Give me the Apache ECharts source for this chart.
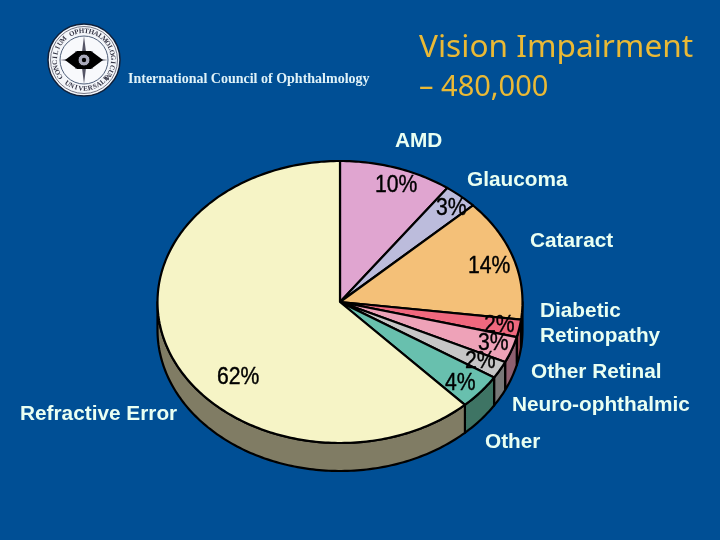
<!DOCTYPE html>
<html><head><meta charset="utf-8">
<style>html,body{margin:0;padding:0;background:#004f95}#c{width:720px;height:540px}</style>
<script src="https://cdn.jsdelivr.net/npm/echarts@6/dist/echarts.min.js"></script>
</head><body><div id="c"></div>
<script>
const categories = ['AMD','Glaucoma','Cataract','Diabetic\nRetinopathy','Other Retinal','Neuro-ophthalmic','Other','Refractive Error'];
const shares = [10,3,14,2,3,2,4,62];
const topColors = ['#e0a5d0','#bcbcdc','#f4c078','#f0687e','#eea2b8','#c6c6c6','#68c0ae','#f6f4c6'];
const sideColors = ['#705068','#5e5e6e','#7a603c','#90404f','#8f6070','#787878','#3e7464','#807c64'];
const titleLines = ['Vision Impairment','– 480,000'];
const caption = 'International Council of Ophthalmology';
const sealText = 'CONCILIUM OPHTHALMOLOGICUM';
const sealText2 = 'UNIVERSALE';

const CX=340, CY=302, RX=182.5, RY=141, DEPTH=28;
const total = shares.reduce((a,b)=>a+b,0);
const starts=[]; shares.reduce((a,b,i)=>{starts[i]=a;return a+b;},0);
const pt=(deg,dy)=>{const t=deg*Math.PI/180;return [CX+RX*Math.sin(t),CY+RY*-Math.cos(t)+(dy||0)];};
const arc=(a,b,dy)=>{const o=[];const n=Math.max(2,Math.ceil(b-a));for(let k=0;k<=n;k++)o.push(pt(a+(b-a)*k/n,dy));return o;};
const span=i=>[starts[i]/total*360,(starts[i]+shares[i])/total*360];

const seriesData = shares.map((v,i)=>({name:categories[i],value:v}));
function renderTop(p,api){
  const [a,b]=span(p.dataIndex);
  return {type:'polygon',shape:{points:[[CX,CY],...arc(a,b)]},
    style:{fill:topColors[p.dataIndex],stroke:'#000',lineWidth:2.2,lineJoin:'round'}};
}
function renderSide(p,api){
  let [a,b]=span(p.dataIndex);
  a=Math.max(a,90); b=Math.min(b,270);
  if(b<=a) return null;
  return {type:'polygon',shape:{points:[...arc(a,b),...arc(a,b,DEPTH).reverse()]},
    style:{fill:sideColors[p.dataIndex],stroke:'#000',lineWidth:2.2,lineJoin:'round'}};
}

const nameFont='bold 20.8px "Liberation Sans"', nameColor='#e9fff2';
const pctFont='23px "Liberation Sans"';
const T=(x,y,text,font,fill,extra,scaleX)=>({type:'text',x,y,z:20,scaleX:scaleX||1,style:Object.assign({text,font,fill,textVerticalAlign:'middle',verticalAlign:'middle',lineHeight:25},extra||{})});
const namePos=[[395,141],[467,180],[530,241],[540,324],[531,372],[512,405],[485,442],[20,414]];
const pctPos=[[375,186],[436,209],[468,267],[484,326],[478,344],[465,362],[445,384],[217,378]];

// seal
const SX=84,SY=60;
const seal=[];
seal.push({type:'circle',z:10,shape:{cx:SX,cy:SY,r:36},style:{fill:'#f4f6fa',stroke:'#10203a',lineWidth:1.5}});
seal.push({type:'circle',z:10,shape:{cx:SX,cy:SY,r:33.5},style:{fill:'none',stroke:'#556',lineWidth:0.8}});
seal.push({type:'circle',z:10,shape:{cx:SX,cy:SY,r:24},style:{fill:'#f8f9fc',stroke:'#50607a',lineWidth:1}});
function ringText(str,startDeg,stepDeg,r,flip){
  [...str].forEach((ch,i)=>{
    const d=(startDeg+i*stepDeg)*Math.PI/180;
    seal.push({type:'text',z:11,x:SX+r*Math.sin(d),y:SY-r*Math.cos(d),rotation:flip? -d+Math.PI : -d,
      style:{text:ch,font:'bold 7px "Liberation Serif"',fill:'#334',align:'center',verticalAlign:'middle'}});
  });
}
ringText(sealText,-125,10,28.8,false);
ringText(sealText2,215,-9.5,28.8,true);
[[0,24],[45,13],[90,24],[135,13],[180,24],[225,13],[270,24],[315,13]].forEach(([deg,len])=>{
  const d=deg*Math.PI/180,dx=Math.sin(d),dy=-Math.cos(d);
  seal.push({type:'polygon',z:11,shape:{points:[[SX+dx*len,SY+dy*len],[SX+dy*3,SY-dx*3],[SX-dy*3,SY+dx*3]]},style:{fill:'#556'}});
});
seal.push({type:'polygon',z:12,shape:{points:[[SX-19,SY],[SX-7,SY-9],[SX+7,SY-9],[SX+19,SY],[SX+7,SY+9],[SX-7,SY+9]]},style:{fill:'#000'}});
seal.push({type:'circle',z:13,shape:{cx:SX,cy:SY,r:6},style:{fill:'#aab',stroke:'#000',lineWidth:1}});
seal.push({type:'circle',z:13,shape:{cx:SX,cy:SY,r:2.2},style:{fill:'#000'}});

const graphics=[
  T(419,48,titleLines[0],'31.6px "Noto Sans"','#eab935'),
  T(419,88,titleLines[1],'29px "Noto Sans"','#eab935'),
  T(128,79,caption,'bold 14px "Liberation Serif"','#dff2f8'),
  ...seal,
  ...categories.map((c,i)=>T(namePos[i][0],namePos[i][1],c,nameFont,nameColor)),
  ...shares.map((v,i)=>T(pctPos[i][0],pctPos[i][1],v+'%',pctFont,'#000',{stroke:'#000',lineWidth:0.4},0.92)),
];

const chart=echarts.init(document.getElementById('c'),null,{renderer:'canvas'});
chart.setOption({
  animation:false,
  backgroundColor:'#004f95',
  series:[
    {type:'custom',coordinateSystem:'none',renderItem:renderSide,data:seriesData,z:2,silent:true},
    {type:'custom',coordinateSystem:'none',renderItem:renderTop,data:seriesData,z:3,silent:true},
  ],
  graphic:graphics,
});
</script></body></html>
